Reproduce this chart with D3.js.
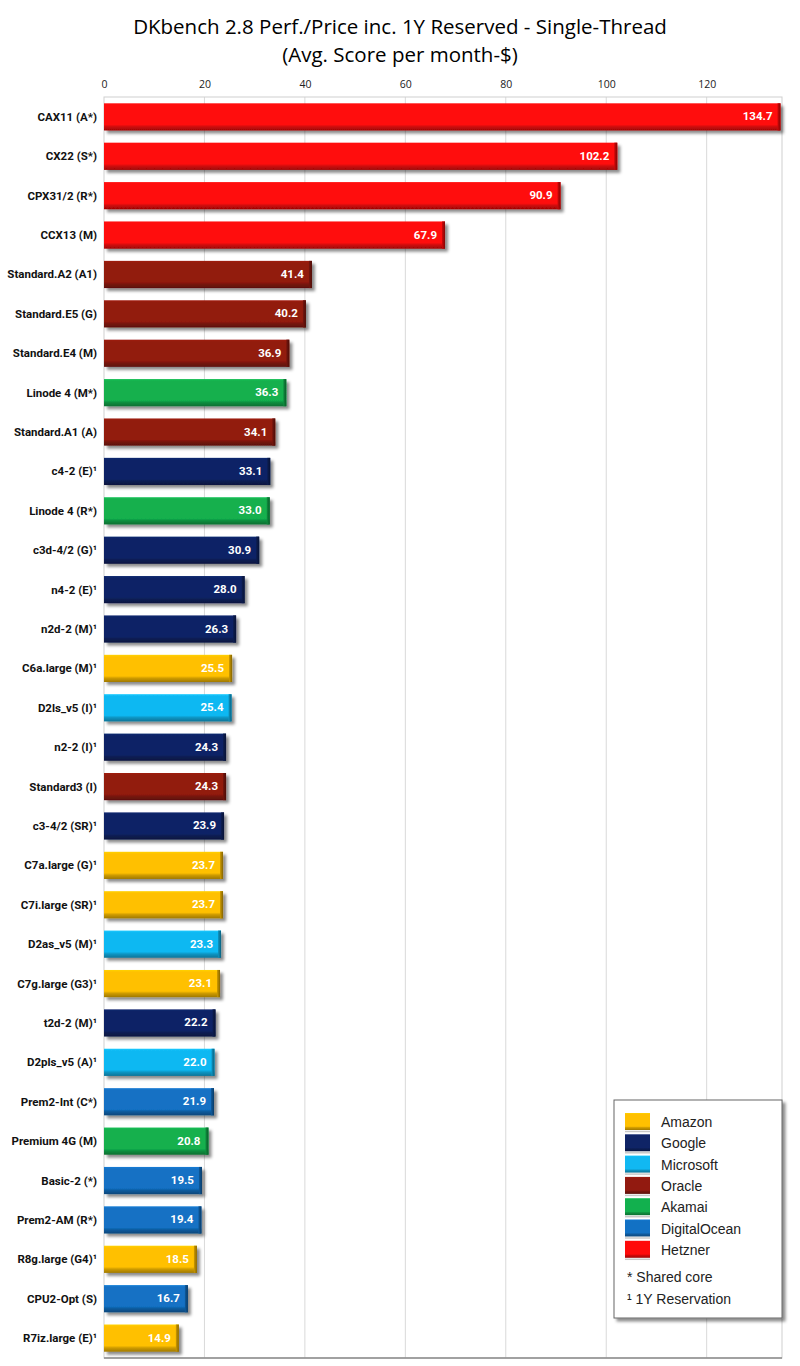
<!DOCTYPE html>
<html><head><meta charset="utf-8">
<script src="https://cdn.jsdelivr.net/npm/d3@7"></script>
<style>body{margin:0;background:#fff}svg{display:block}</style>
</head><body>
<svg id="c" width="800" height="1366"></svg>
<script>
const names = ["CAX11 (A*)","CX22 (S*)","CPX31/2 (R*)","CCX13 (M)","Standard.A2 (A1)","Standard.E5 (G)","Standard.E4 (M)","Linode 4 (M*)","Standard.A1 (A)","c4-2 (E)¹","Linode 4 (R*)","c3d-4/2 (G)¹","n4-2 (E)¹","n2d-2 (M)¹","C6a.large (M)¹","D2ls_v5 (I)¹","n2-2 (I)¹","Standard3 (I)","c3-4/2 (SR)¹","C7a.large (G)¹","C7i.large (SR)¹","D2as_v5 (M)¹","C7g.large (G3)¹","t2d-2 (M)¹","D2pls_v5 (A)¹","Prem2-Int (C*)","Premium 4G (M)","Basic-2 (*)","Prem2-AM (R*)","R8g.large (G4)¹","CPU2-Opt (S)","R7iz.large (E)¹"];
const values = [134.7,102.2,90.9,67.9,41.4,40.2,36.9,36.3,34.1,33.1,33.0,30.9,28.0,26.3,25.5,25.4,24.3,24.3,23.9,23.7,23.7,23.3,23.1,22.2,22.0,21.9,20.8,19.5,19.4,18.5,16.7,14.9];
const providers = ["Hetzner","Hetzner","Hetzner","Hetzner","Oracle","Oracle","Oracle","Akamai","Oracle","Google","Akamai","Google","Google","Google","Amazon","Microsoft","Google","Oracle","Google","Amazon","Amazon","Microsoft","Amazon","Google","Microsoft","DigitalOcean","Akamai","DigitalOcean","DigitalOcean","Amazon","DigitalOcean","Amazon"];
const legendNames = ["Amazon","Google","Microsoft","Oracle","Akamai","DigitalOcean","Hetzner"];
const legendColors = ["#FFC000","#0F2466","#11B8F2","#921A10","#12B04E","#1271C4","#FF0A0A"];
const tickValues = [0,20,40,60,80,100,120];
const notes = ["* Shared core","¹ 1Y Reservation"];

const svg = d3.select("#c");
const L = 104, R = 782, T = 97, B = 1358;
const x = d3.scaleLinear().domain([0,135]).range([L,R]);
const y = d3.scaleBand().domain(d3.range(names.length)).range([T,B]).paddingInner(0.31).paddingOuter(0.16);

const defs = svg.append("defs");
const f = defs.append("filter").attr("id","sh").attr("x","-5%").attr("y","-30%").attr("width","115%").attr("height","170%");
f.append("feDropShadow").attr("dx",3).attr("dy",3).attr("stdDeviation",1.6).attr("flood-color","#000").attr("flood-opacity",0.45);
legendNames.forEach((n,i)=>{
  const c = d3.color(legendColors[i]);
  const g = defs.append("linearGradient").attr("id","g"+i).attr("x1",0).attr("x2",0).attr("y1",0).attr("y2",1);
  g.append("stop").attr("offset","0").attr("stop-color",c.brighter(0.25));
  g.append("stop").attr("offset","0.08").attr("stop-color",c);
  g.append("stop").attr("offset","0.78").attr("stop-color",c);
  g.append("stop").attr("offset","0.86").attr("stop-color",c.darker(0.6));
  g.append("stop").attr("offset","1").attr("stop-color",c.darker(1.3));
  const h = defs.append("linearGradient").attr("id","h"+i).attr("x1",0).attr("x2",1).attr("y1",0).attr("y2",0);
  h.append("stop").attr("offset","0").attr("stop-color",c.darker(0.6));
  h.append("stop").attr("offset","1").attr("stop-color",c.darker(1.8));
});

// title
svg.append("text").attr("x",400).attr("y",34).attr("text-anchor","middle")
  .style("font-family","'Open Sans'").style("font-size","20.5px").attr("fill","#000")
  .text("DKbench 2.8 Perf./Price inc. 1Y Reserved - Single-Thread");
svg.append("text").attr("x",400).attr("y",62).attr("text-anchor","middle")
  .style("font-family","'Open Sans'").style("font-size","20.5px").attr("fill","#000")
  .text("(Avg. Score per month-$)");

// gridlines
svg.append("g").selectAll("line").data(tickValues.slice(1)).join("line")
  .attr("x1",d=>x(d)).attr("x2",d=>x(d)).attr("y1",T).attr("y2",B)
  .attr("stroke","#d9d9d9").attr("stroke-width",1);
svg.append("rect").attr("x",L).attr("y",T).attr("width",R-L).attr("height",B-T)
  .attr("fill","none").attr("stroke","#cfcfcf");
svg.append("line").attr("x1",L).attr("x2",R).attr("y1",B).attr("y2",B).attr("stroke","#8a8a8a").attr("stroke-width",1.5);

// top axis
const ax = svg.append("g").attr("transform",`translate(0,${T})`)
  .call(d3.axisTop(x).tickValues(tickValues).tickSize(0).tickPadding(9));
ax.select(".domain").remove();
ax.selectAll("text").style("font-family","'Open Sans'").style("font-size","10.5px").attr("fill","#222");

// bars
const bars = svg.append("g").selectAll("g").data(values).join("g");
bars.append("rect").attr("x",x(0)).attr("y",(d,i)=>y(i)).attr("width",d=>x(d)-x(0)).attr("height",y.bandwidth())
  .attr("fill",(d,i)=>"url(#g"+legendNames.indexOf(providers[i])+")").attr("filter","url(#sh)");
bars.append("rect").attr("x",d=>x(d)-3).attr("y",(d,i)=>y(i)).attr("width",3).attr("height",y.bandwidth())
  .attr("fill",(d,i)=>"url(#h"+legendNames.indexOf(providers[i])+")");
bars.append("text").attr("x",d=>x(d)-8).attr("y",(d,i)=>y(i)+y.bandwidth()/2+3.5)
  .attr("text-anchor","end").style("font-family","Roboto").style("font-weight","700").style("font-size","11.5px")
  .attr("fill","#fff").text(d=>d.toFixed(1));

// category labels
svg.append("g").selectAll("text").data(names).join("text")
  .attr("x",97).attr("y",(d,i)=>y(i)+y.bandwidth()/2+4)
  .attr("text-anchor","end").style("font-family","Roboto").style("font-weight","700").style("font-size","11.5px")
  .attr("fill","#111").text(d=>d);

// legend
const lg = svg.append("g").attr("transform","translate(614,1100)");
lg.append("rect").attr("x",0).attr("y",0).attr("width",168).attr("height",218)
  .attr("fill","#fff").attr("stroke","#666").attr("stroke-width",1).attr("filter","url(#sh)");
const li = lg.selectAll("g.it").data(legendNames).join("g").attr("class","it")
  .attr("transform",(d,i)=>`translate(0,${13+i*21.3})`);
li.append("rect").attr("x",11).attr("y",0).attr("width",25).attr("height",17)
  .attr("fill",(d,i)=>"url(#g"+i+")");
li.append("line").attr("x1",11).attr("x2",36).attr("y1",18.5).attr("y2",18.5).attr("stroke","#c8c8c8").attr("stroke-width",1.5);
li.append("text").attr("x",47).attr("y",14).style("font-family","'Liberation Sans'").style("font-size","14px")
  .attr("fill","#222").text(d=>d);
lg.selectAll("text.note").data(notes).join("text").attr("class","note")
  .attr("x",13).attr("y",(d,i)=>182+i*22).style("font-family","'Liberation Sans'").style("font-size","14px")
  .attr("fill","#222").text(d=>d);
</script>
</body></html>
